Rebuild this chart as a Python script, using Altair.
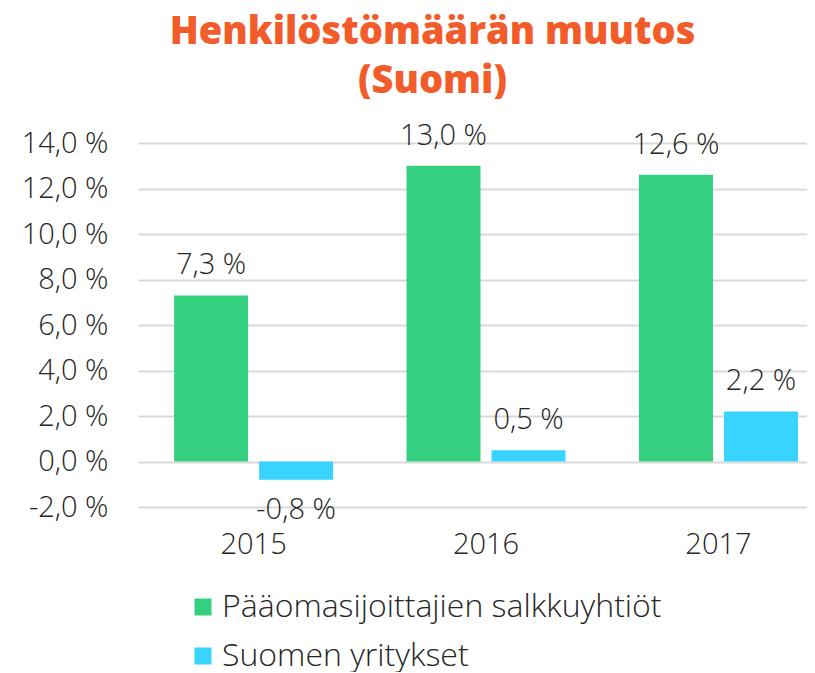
import altair as alt
import pandas as pd

years = ["2015", "2016", "2017"]
series_names = ["Pääomasijoittajien salkkuyhtiöt", "Suomen yritykset"]
pe_values = [7.3, 13.0, 12.6]
fi_values = [-0.8, 0.5, 2.2]
y_ticks = [-2, 0, 2, 4, 6, 8, 10, 12, 14]
colors = ["#35D07F", "#38D4FF"]
title_lines = ["Henkilöstömäärän muutos", "(Suomi)"]

rows = []
for i, yr in enumerate(years):
    rows.append({"year": yr, "series": series_names[0], "value": pe_values[i]})
    rows.append({"year": yr, "series": series_names[1], "value": fi_values[i]})
df = pd.DataFrame(rows)
df["label"] = df["value"].map(lambda v: f"{v:.1f}".replace(".", ",") + " %")

FONT = "Open Sans"
TXT = "#262626"
FS = 29
FW = 300

x_enc = alt.X(
    "year:N", sort=years,
    scale=alt.Scale(paddingInner=0.316, paddingOuter=0.097, align=0.8),
    axis=alt.Axis(title=None, labelAngle=0, ticks=False, domain=False, grid=False,
                  labelFontSize=FS, labelFont=FONT, labelFontWeight=FW,
                  labelColor=TXT, labelPadding=23),
)
xo_enc = alt.XOffset("series:N", sort=series_names,
                     scale=alt.Scale(paddingInner=0.13, paddingOuter=0))
y_enc = alt.Y(
    "value:Q",
    scale=alt.Scale(domain=[-2, 14], nice=False, zero=False),
    axis=alt.Axis(title=None, values=y_ticks, grid=True, gridColor="#D9D9D9", gridWidth=2,
                  ticks=False, domain=False, labelPadding=30, labelFontSize=FS,
                  labelFont=FONT, labelFontWeight=FW, labelColor=TXT,
                  labelExpr="replace(replace(format(datum.value, '.1f'), '.', ','), '\u2212', '-') + ' %'"),
)

base = alt.Chart(df)

bars = base.mark_bar().encode(
    x=x_enc, xOffset=xo_enc, y=y_enc,
    color=alt.Color("series:N", sort=series_names,
                    scale=alt.Scale(domain=series_names, range=colors),
                    legend=alt.Legend(orient="none", legendX=49, legendY=448, title=None,
                                      padding=0, symbolType="square", symbolSize=289,
                                      symbolStrokeWidth=0, labelFontSize=32, labelFont=FONT,
                                      labelFontWeight=FW, labelColor=TXT, rowPadding=17,
                                      labelOffset=3, labelLimit=0, direction="vertical")),
)

txt_style = dict(fontSize=FS, font=FONT, fontWeight=FW, color=TXT, baseline="middle", align="center")
pos_text = base.transform_filter("datum.value >= 0").mark_text(dy=-30, **txt_style).encode(
    x=x_enc, xOffset=xo_enc, y=y_enc, text="label:N")
neg_text = base.transform_filter("datum.value < 0").mark_text(dy=30, **txt_style).encode(
    x=x_enc, xOffset=xo_enc, y=y_enc, text="label:N")

chart = alt.layer(bars, pos_text, neg_text).properties(
    width=669, height=364,
    title=alt.Title(title_lines, fontSize=38, font="Open Sans", fontWeight=800, color="#F25C2A",
                    anchor="middle", dx=-40, frame="group", offset=21, lineHeight=49),
    autosize=alt.AutoSizeParams(type="none"),
    padding={"left": 130, "top": 135, "right": 0, "bottom": 165},
).configure_view(stroke=None)

chart.save("out.html", embed_options={"renderer": "svg", "actions": False})
